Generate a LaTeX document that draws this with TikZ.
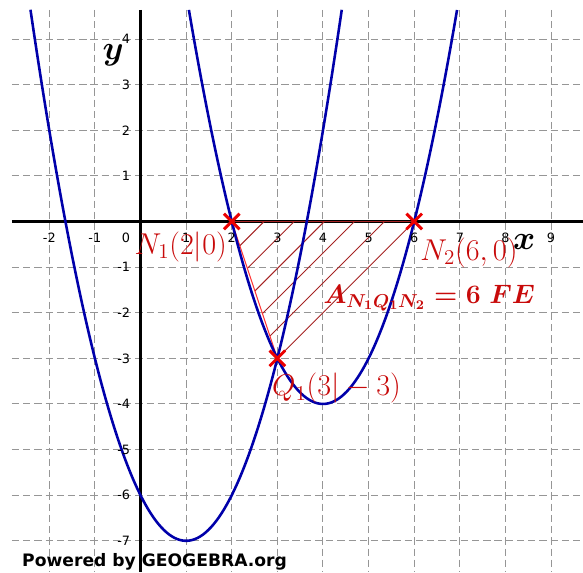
\RequirePackage{fix-cm}
\documentclass[tikz,border=0pt]{standalone}
\usepackage{amsmath, amssymb}
\usepackage{fontspec}
\newfontfamily\ggfont{DejaVu Sans}
\usetikzlibrary{shapes.misc}

\definecolor{ggblue}{RGB}{0,0,170}
\definecolor{ggred}{RGB}{235,0,0}
\definecolor{labelred}{RGB}{200,10,10}
\definecolor{hatchred}{RGB}{165,35,35}
\definecolor{gridgray}{RGB}{150,150,150}

\begin{document}
\begin{tikzpicture}[
  curve/.style={ggblue, line width=1.6pt},
  axis/.style={black, line width=1.4pt},
  gridline/.style={gridgray, line width=0.6pt, dash pattern=on 4.6pt off 2.4pt},
  hatch/.style={hatchred, line width=0.6pt},
  pointmark/.style={
    cross out, draw=ggred, line width=1.8pt,
    minimum size=0.28cm, inner sep=0pt
  },
  ticklabel/.style={font=\ggfont\fontsize{8}{9}\selectfont, inner sep=0pt},
  ptlabel/.style={
    text=labelred, inner sep=0pt,
    font=\fontsize{18.8}{22}\selectfont
  },
]

  \useasboundingbox (-3.08,-7.69) rectangle (9.70,4.855);

  % -------------------------------------------------------
  %  Grid and axes
  % -------------------------------------------------------
  \foreach \y in {-7,-6,-5,-4,-3,-2,-1,1,2,3,4}
    \draw[gridline] (-2.82,\y) -- (9.70,\y);
  \foreach \x in {-2,-1,1,2,3,4,5,6,7,8,9}
    \draw[gridline] (\x,4.64) -- (\x,-7.69);

  \draw[axis] (-2.82,0) -- (9.70,0);
  \draw[axis] (0,4.64) -- (0,-7.69);

  % -------------------------------------------------------
  %  Points
  % -------------------------------------------------------
  \coordinate (N1) at (2,0);
  \coordinate (N2) at (6,0);
  \coordinate (Q1) at (3,-3);

  % -------------------------------------------------------
  %  Hatched triangle N1 Q1 N2
  % -------------------------------------------------------
  \foreach \c in {2.71,3.37,4.03,4.69,5.35}
    \draw[hatch] (\c,0) -- ({2+(\c-2)/4},{-3*(\c-2)/4});
  \draw[hatch] (Q1) -- (N2);
  \draw[red!80, line width=0.6pt] (N1) -- (Q1);
  \draw[hatchred, line width=1.2pt] (N1) -- (N2);

  % -------------------------------------------------------
  %  Parabolas
  % -------------------------------------------------------
  \draw[curve] plot[domain=-2.412:4.412, samples=120, smooth]
    (\x, {\x*\x-2*\x-6});
  \draw[curve] plot[domain=1.061:6.939, samples=120, smooth]
    (\x, {\x*\x-8*\x+12});

  \node[pointmark] (mN1) at (N1) {};
  \node[pointmark] (mN2) at (N2) {};
  \node[pointmark] (mQ1) at (Q1) {};

  % -------------------------------------------------------
  %  Tick labels
  % -------------------------------------------------------
  \foreach \x in {-2,-1,1,2,3,4,5,6,7,8,9}
    \node[ticklabel] (tx\x) at (\x,-0.35) {\x};
  \node[ticklabel] (t0) at (-0.32,-0.35) {0};
  \foreach \y in {-7,-6,-5,-4,-3,-2,-1,1,2,3,4}
    \node[ticklabel, anchor=east] (ty\y) at (-0.22,\y) {\y};

  % -------------------------------------------------------
  %  Labels
  % -------------------------------------------------------
  \node[inner sep=0pt, font=\fontsize{21}{24}\selectfont] (ly) at (-0.6,3.65) {$\boldsymbol{y}$};
  \node[inner sep=0pt, font=\fontsize{21}{24}\selectfont] (lx) at (8.41,-0.44) {$\boldsymbol{x}$};

  \node[ptlabel, anchor=east] (lN1) at (1.90,-0.55) {$N_1(2|0)$};
  \node[ptlabel, anchor=west] (lN2) at (6.13,-0.68) {$N_2(6,0)$};
  \node[ptlabel, anchor=west] (lQ1) at (2.88,-3.66) {$Q_1(3|-3)$};
  \node[ptlabel, anchor=base west, font=\fontsize{16.6}{19}\selectfont] (lA)
    at (4.0,-1.79) {$\boldsymbol{A_{N_1Q_1N_2} = 6\;FE}$};

  \node[anchor=base west, inner sep=0pt,
        font=\ggfont\bfseries\fontsize{10.7}{12}\selectfont] (gg)
    at (-2.60,-7.57) {Powered by GEOGEBRA.org};

\end{tikzpicture}
\end{document}
